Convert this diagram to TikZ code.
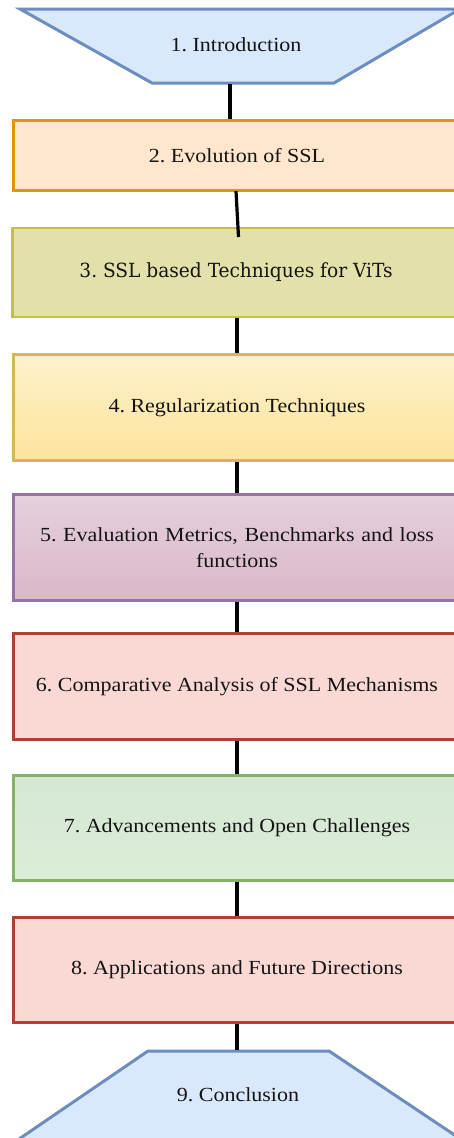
\documentclass[tikz,border=0pt]{standalone}
\usepackage{fontspec}
\setmainfont[FakeStretch=1.1]{Liberation Serif}
\newfontfamily\boxthreefont[FakeStretch=1.06]{DejaVu Serif Condensed}
\frenchspacing
\definecolor{trapfill}{HTML}{DAE8FC}
\definecolor{trapline}{HTML}{6C8EBF}
\definecolor{orfill}{HTML}{FFE6CC}
\definecolor{orline}{HTML}{D79B00}
\definecolor{olfill}{HTML}{E2E1A9}
\definecolor{olline}{HTML}{C3C13F}
\definecolor{yetop}{HTML}{FEF1CC}
\definecolor{yebot}{HTML}{FCE49C}
\definecolor{yeline}{HTML}{D6B656}
\definecolor{putop}{HTML}{E6D0DE}
\definecolor{pubot}{HTML}{DAB8C8}
\definecolor{puline}{HTML}{9673A6}
\definecolor{refill}{HTML}{FAD9D5}
\definecolor{reline}{HTML}{AE4132}
\definecolor{grtop}{HTML}{D5E8D4}
\definecolor{grbot}{HTML}{DCEDD7}
\definecolor{grline}{HTML}{82B366}
\definecolor{txt}{HTML}{141414}
\begin{document}
\begin{tikzpicture}[x=1pt,y=-1pt,
  box/.style={rectangle, line width=3pt, minimum width=447pt, inner sep=0pt,
    text=txt, font=\fontsize{20}{26}\selectfont, align=center},
  conn/.style={line width=3.2pt, draw=black},
  lbl/.style={text=txt, font=\fontsize{20}{26}\selectfont, inner sep=0pt}]
\useasboundingbox (0,0) rectangle (454,1138);
\clip (0,0) rectangle (454,1138);

% top trapezoid
\draw[line width=3pt, fill=trapfill, draw=trapline, line join=miter]
  (20,9) -- (460,9) -- (334,83) -- (152,83) -- cycle;
\node[lbl] (t1) at (236,45) {1. Introduction};
\coordinate (c1) at (230,84);

% boxes
\node[box, fill=orfill, draw=orline, minimum height=70pt] (b2) at (237,155.5) {2. Evolution of SSL};
\node[box, fill=olfill, draw=olline, line width=2.5pt, minimum height=89pt,
  font=\boxthreefont\fontsize{19.5}{24}\selectfont] (b3) at (236,272.5) {3. SSL based Techniques for ViTs};
\node[box, top color=yetop, bottom color=yebot, draw=yeline, minimum height=106pt] (b4) at (237,407.5) {4. Regularization Techniques};
\node[box, top color=putop, bottom color=pubot, draw=puline, minimum height=106pt, text width=420pt] (b5) at (237,547.5) {5. Evaluation Metrics, Benchmarks and loss\\functions};
\node[box, fill=refill, draw=reline, minimum height=106pt] (b6) at (237,686.5) {6. Comparative Analysis of SSL Mechanisms};
\node[box, top color=grtop, bottom color=grbot, draw=grline, minimum height=105pt] (b7) at (237,828) {7. Advancements and Open Challenges};
\node[box, fill=refill, draw=reline, minimum height=105pt] (b8) at (237,970) {8. Applications and Future Directions};

% bottom trapezoid
\draw[line width=3pt, fill=trapfill, draw=trapline, line join=miter]
  (148,1051) -- (329,1051) -- (480,1152) -- (0,1152) -- cycle;
\node[lbl] (t9) at (238,1095) {9. Conclusion};
\coordinate (c9) at (237,1050);

% connectors
\coordinate (c3) at (238.5,237);
\draw[conn] (c1) -- (c1 |- b2.north);
\draw[conn] (236,191) -- (c3);
\draw[conn] (b3.south -| 237,0) -- (b4.north);
\draw[conn] (b4.south) -- (b5.north);
\draw[conn] (b5.south) -- (b6.north);
\draw[conn] (b6.south) -- (b7.north);
\draw[conn] (b7.south) -- (b8.north);
\draw[conn] (b8.south) -- (c9);
\end{tikzpicture}
\end{document}
